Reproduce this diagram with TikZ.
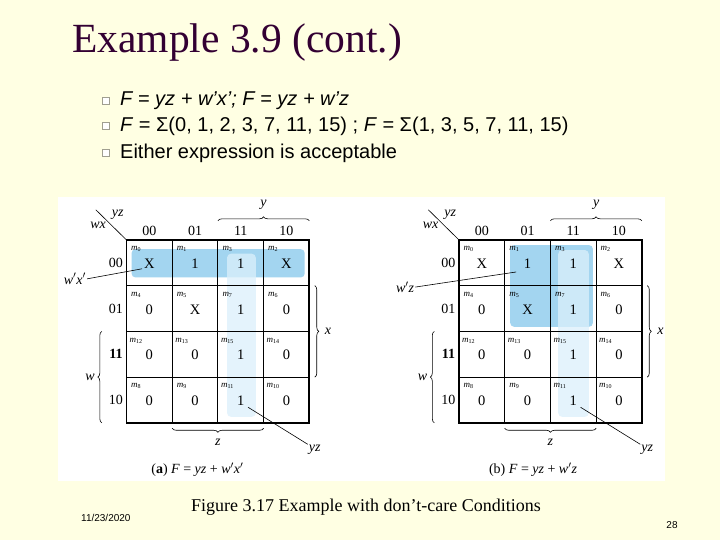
\documentclass[tikz,border=0pt]{standalone}
\usepackage{fontspec}
\setmainfont{Liberation Serif}
\setsansfont{Liberation Sans}
\usetikzlibrary{decorations.pathreplacing,calc}
\definecolor{slidebg}{HTML}{FFFFE3}
\definecolor{titlecol}{HTML}{330033}
\definecolor{grpdark}{HTML}{A3D5F0}
\definecolor{grplight}{HTML}{DCF0FB}
\definecolor{bulletgrey}{HTML}{A09F90}
\newcommand{\kprime}{$'$}

\begin{document}
\begin{tikzpicture}[x=1pt,y=-1pt,
  kmap/.style={shift={(#1,240)},x=45.7pt,y=-45.7pt},
  cellval/.style={font=\fontsize{14.5}{14.5}\selectfont,inner sep=0pt},
  minterm/.style={font=\fontsize{9}{9}\selectfont,inner sep=0pt},
  hdr/.style={font=\fontsize{14}{14}\selectfont,inner sep=0pt},
  varlab/.style={font=\fontsize{14}{14}\selectfont\itshape,inner sep=1pt},
  kline/.style={draw=black,line width=1.1pt},
  kframe/.style={draw=black,line width=1.7pt},
  brc/.style={decorate,decoration={brace,amplitude=4pt},line width=0.6pt},
  grp/.style={rounded corners=4pt},
  leader/.style={draw=black,line width=0.6pt},
  bulletbox/.style={draw=bulletgrey,fill=white,minimum size=7pt,inner sep=0pt,line width=0.7pt},
  bullettext/.style={font=\sffamily\fontsize{20}{20}\selectfont,anchor=west,inner sep=0pt}]
\fill[slidebg] (0,0) rectangle (720,540);
\useasboundingbox (0,0) rectangle (720,540);
\fill[white] (58,197) rectangle (665,481);

% title and bullets
\node[anchor=base west,inner sep=0pt,text=titlecol,font=\fontsize{41.5}{41.5}\selectfont] (title) at (72,53) {Example 3.9 (cont.)};
\node[bulletbox] (b1) at (106,101) {};
\node[bullettext] (t1) at (120,101) {\itshape F = yz + w'x'; F = yz + w'z};
\node[bulletbox] (b2) at (106,126) {};
\node[bullettext] (t2) at (120,126) {\textit{F} = Σ(0, 1, 2, 3, 7, 11, 15) ; \textit{F} = Σ(1, 3, 5, 7, 11, 15)};
\node[bulletbox] (b3) at (106,153) {};
\node[bullettext] (t3) at (120,153) {Either expression is acceptable};

% groupings
\begin{scope}[kmap=126.5]
  \fill[grpdark,grp] (0.11,0.2) rectangle (3.9,0.82);
  \fill[grplight,grp,fill opacity=0.75] (2.2,0.3) rectangle (2.83,3.87);
\end{scope}
\begin{scope}[kmap=459]
  \fill[grpdark,grp] (1.12,0.11) rectangle (2.93,1.9);
  \fill[grplight,grp,fill opacity=0.75] (2.17,0.22) rectangle (2.84,3.87);
\end{scope}

% the two maps
\foreach \mp/\ox in {a/126.5,b/459}{
\begin{scope}[kmap=\ox]
  \foreach \i in {1,2,3}{
    \draw[kline] (\i,0) -- (\i,4);
    \draw[kline] (0,\i) -- (4,\i);
  }
  \draw[kframe] (0,0) rectangle (4,4);
  \foreach \lab [count=\kc from 0] in {00,01,11,10}
    \node[hdr] (\mp-col\kc) at (\kc+0.5,-0.2) {\lab};
  \foreach \lab/\wt [count=\kr from 0] in {00/\mdseries,01/\mdseries,11/\bfseries,10/\mdseries}
    \node[hdr,font=\fontsize{14}{14}\selectfont\wt] (\mp-row\kr) at (-0.23,\kr+0.5) {\lab};
  \foreach \v/\m [count=\k from 0] in {X/0,1/1,1/3,X/2,0/4,X/5,1/7,0/6,0/12,0/13,1/15,0/14,0/8,0/9,1/11,0/10}{
    \pgfmathtruncatemacro\kc{mod(\k,4)}
    \pgfmathtruncatemacro\kr{div(\k,4)}
    \node[cellval] (\mp-v\m) at (\kc+0.5,\kr+0.52) {\v};
    \node[minterm] (\mp-m\m) at (\kc+0.21,\kr+0.2) {\textit{m}\textsubscript{\m}};
  }
  % corner labels
  \coordinate (\mp-dg) at (-0.67,-0.66);
  \coordinate (\mp-corner) at (0,0);
  \draw[leader] (\mp-dg) -- (\mp-corner);
  \node[varlab] (\mp-yz) at (-0.19,-0.56) {yz};
  \node[varlab] (\mp-wx) at (-0.62,-0.33) {wx};
  % braces
  \draw[brc] (2,-0.42) -- (4,-0.42);
  \node[varlab] (\mp-y) at (3,-0.76) {y};
  \draw[brc] (4.12,1) -- (4.12,3);
  \node[varlab] (\mp-x) at (4.41,2) {x};
  \draw[brc] (-0.54,4) -- (-0.54,2);
  \node[varlab] (\mp-w) at (-0.8,3) {w};
  \draw[brc] (3,4.12) -- (1,4.12);
  \node[varlab] (\mp-z) at (2,4.42) {z};
  % yz leader
  \node[varlab] (\mp-yzl) at (4.12,4.6) {yz};
  \coordinate (\mp-yzp) at (2.66,3.66);
  \draw[leader] (\mp-yzp) -- (\mp-yzl.north west);
\end{scope}
}

% group labels and captions
\begin{scope}[kmap=126.5]
  \node[varlab] (a-wxl) at (-1.13,0.85) {w\kprime x\kprime};
  \coordinate (a-wxp) at (0.34,0.63);
  \draw[leader] (a-wxl.east) -- (a-wxp);
  \node[font=\fontsize{14}{14}\selectfont] (a-cap) at (1.55,5.03) {(\textbf{a}) \textit{F} = \textit{yz} + \textit{w}\kprime\textit{x}\kprime};
\end{scope}
\begin{scope}[kmap=459]
  \node[varlab] (b-wzl) at (-1.18,1.03) {w\kprime z};
  \coordinate (b-wzp) at (1.25,0.70);
  \draw[leader] (b-wzl.east) -- (b-wzp);
  \node[font=\fontsize{14}{14}\selectfont] (b-cap) at (1.62,5.03) {(b) \textit{F} = \textit{yz} + \textit{w}\kprime\textit{z}};
\end{scope}

% footer
\node[font=\fontsize{18}{18}\selectfont] (figcap) at (366,507) {Figure 3.17 Example with don't-care Conditions};
\node[font=\sffamily\fontsize{10}{10}\selectfont,anchor=west,inner sep=0pt] (date) at (81,518) {11/23/2020};
\node[font=\sffamily\fontsize{10}{10}\selectfont] (page) at (672,525) {28};
\end{tikzpicture}
\end{document}
